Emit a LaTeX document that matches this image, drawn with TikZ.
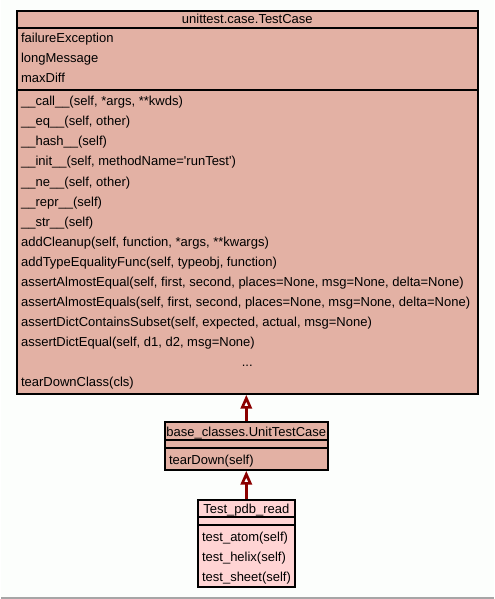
\documentclass[tikz,border=0pt]{standalone}
\usepackage{fontspec}
\setmainfont{Liberation Sans}
\usetikzlibrary{arrows.meta,positioning,fit}
\definecolor{basefill}{RGB}{227,177,164}
\definecolor{leaffill}{RGB}{255,212,212}
\definecolor{inherit}{RGB}{139,0,0}
\definecolor{pagebg}{RGB}{252,254,252}

\begin{document}
\begin{tikzpicture}[x=0.75pt,y=-0.75pt,
  umlclass/.style={draw=black, line width=1.1pt, inner sep=0pt},
  member/.style={anchor=base west, inner sep=0pt, font=\fontsize{9.75pt}{12pt}\selectfont},
  title/.style={anchor=base, inner sep=0pt, font=\fontsize{9.75pt}{12pt}\selectfont},
  sep/.style={draw=black, line width=1.1pt},
  isa/.style={draw=inherit, line width=2pt, -{Triangle[length=10.5pt, width=8.5pt, fill=white]}}
]
\fill[pagebg] (0,0) rectangle (493,599);
\draw[gray!70, line width=1.2pt] (0,598) -- (493,598);

% unittest.case.TestCase
\node[umlclass, fill=basefill, fit={(16,11) (477,394)}] (tc) {};
\node[title] (tcname) at (246.5,24) {unittest.case.TestCase};
\draw[sep] (16,28) -- (477,28);
\draw[sep] (16,90) -- (477,90);
\foreach \t [count=\k] in {failureException, longMessage, maxDiff}
  \node[member] (a\k) at (20,23+20*\k) {\t};
\foreach \t [count=\k] in {
  {\_\_call\_\_(self, *args, **kwds)},
  {\_\_eq\_\_(self, other)},
  {\_\_hash\_\_(self)},
  {\_\_init\_\_(self, methodName=\textquotesingle runTest\textquotesingle)},
  {\_\_ne\_\_(self, other)},
  {\_\_repr\_\_(self)},
  {\_\_str\_\_(self)},
  {addCleanup(self, function, *args, **kwargs)},
  {addTypeEqualityFunc(self, typeobj, function)},
  {assertAlmostEqual(self, first, second, places=None, msg=None, delta=None)},
  {assertAlmostEquals(self, first, second, places=None, msg=None, delta=None)},
  {assertDictContainsSubset(self, expected, actual, msg=None)},
  {assertDictEqual(self, d1, d2, msg=None)}}
  \node[member] (m\k) at (20,86+20*\k) {\t};
\node[title] (more) at (246.5,366) {...};
\node[member] (m14) at (20,386) {tearDownClass(cls)};

% base_classes.UnitTestCase
\node[umlclass, fill=basefill, fit={(164,422) (327,470)}] (utc) {};
\node[title] (utcname) at (245.5,436) {base\_classes.UnitTestCase};
\draw[sep] (164,440) -- (327,440);
\draw[sep] (164,448) -- (327,448);
\node[member] (u1) at (168,464) {tearDown(self)};

% Test_pdb_read
\node[umlclass, fill=leaffill, fit={(197,500) (294,587)}] (tpr) {};
\node[title] (tprname) at (245.5,513) {Test\_pdb\_read};
\draw[sep] (197,517) -- (294,517);
\draw[sep] (197,525) -- (294,525);
\foreach \t [count=\k] in {test\_atom(self), test\_helix(self), test\_sheet(self)}
  \node[member] (t\k) at (201,521+20*\k) {\t};

\draw[isa] (utc.north) -- (utc.north |- tc.south);
\draw[isa] (tpr.north) -- (tpr.north |- utc.south);
\end{tikzpicture}
\end{document}
